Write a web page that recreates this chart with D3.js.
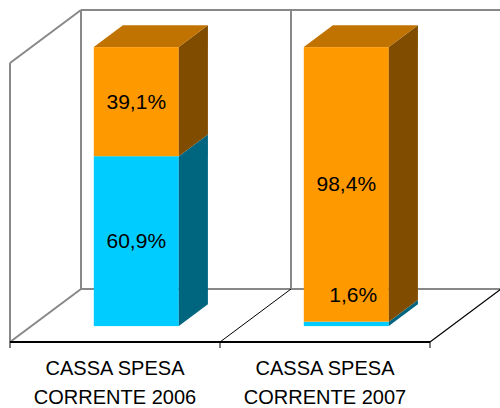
<!DOCTYPE html>
<html>
<head>
<meta charset="utf-8">
<script src="https://cdn.jsdelivr.net/npm/d3@7"></script>
<style>
  body { margin: 0; background: #fff; }
  text { font-family: "Liberation Sans", Arial, sans-serif; }
</style>
</head>
<body>
<div id="chart"></div>
<script>
var categories = ["2006", "2007"];
var categoryLines = [["CASSA SPESA", "CORRENTE 2006"], ["CASSA SPESA", "CORRENTE 2007"]];
var seriesNames = ["blue", "orange"];
var blueValues = [60.9, 1.6];
var orangeValues = [39.1, 98.4];
var valueLabels = [["60,9%", "1,6%"], ["39,1%", "98,4%"]];

var w = 500;
var h = 408;

// depth of the whole box (floor), and where the bars sit inside it
var depthX = 71, depthY = -53;
var barFront = 0.3, barDepth = 0.41;

var colors = { front: ["#00CCFF", "#FF9900"], side: ["#006680", "#804C00"], top: ["#007A99", "#C07300"] };

var xscale = d3.scaleBand()
    .domain(categories)
    .range([10, 430]);

var yscale = d3.scaleLinear()
    .domain([0, 100])
    .range([342, 63]);

var svg = d3.select("#chart")
    .append("svg")
    .attr("width", w)
    .attr("height", h);

function pt(x, y, f) {
    return [x + depthX * f, y + depthY * f];
}

var x0 = xscale.range()[0], x1 = xscale.range()[1];
var yb = yscale(0), yt = yscale(100);
var wallColor = "#888";

// left wall
var lw = svg.append("g").attr("fill", "none").attr("stroke", wallColor).attr("stroke-width", 2);
lw.append("line").attr("x1", x0).attr("y1", yt).attr("x2", x0).attr("y2", yb);
lw.append("line").attr("x1", x0).attr("y1", yt).attr("x2", pt(x0, yt, 1)[0]).attr("y2", pt(x0, yt, 1)[1]);
lw.append("line").attr("x1", x0).attr("y1", yb).attr("x2", pt(x0, yb, 1)[0]).attr("y2", pt(x0, yb, 1)[1]);
lw.append("line").attr("x1", pt(x0, yt, 1)[0]).attr("y1", pt(x0, yt, 1)[1]).attr("x2", pt(x0, yb, 1)[0]).attr("y2", pt(x0, yb, 1)[1]);

// back wall
lw.append("line").attr("x1", pt(x0, yt, 1)[0]).attr("y1", pt(x0, yt, 1)[1]).attr("x2", pt(x1, yt, 1)[0]).attr("y2", pt(x1, yt, 1)[1]);
lw.append("line").attr("x1", pt(x0, yb, 1)[0]).attr("y1", pt(x0, yb, 1)[1]).attr("x2", pt(x1, yb, 1)[0]).attr("y2", pt(x1, yb, 1)[1]);
var xmid = xscale(categories[1]);
lw.append("line").attr("x1", pt(xmid, yt, 1)[0]).attr("y1", pt(xmid, yt, 1)[1]).attr("x2", pt(xmid, yb, 1)[0]).attr("y2", pt(xmid, yb, 1)[1]);

// floor
var fl = svg.append("g").attr("stroke", "#000").attr("fill", "none");
fl.append("line").attr("x1", xmid).attr("y1", yb).attr("x2", pt(xmid, yb, 1)[0]).attr("y2", pt(xmid, yb, 1)[1]).attr("stroke-width", 1);
fl.append("line").attr("x1", x1).attr("y1", yb).attr("x2", pt(x1, yb, 1)[0]).attr("y2", pt(x1, yb, 1)[1]).attr("stroke-width", 1.2);
fl.append("line").attr("x1", x0).attr("y1", yb).attr("x2", x1).attr("y2", yb).attr("stroke-width", 2);
fl.selectAll(".tick")
    .data([x0, xmid, x1])
    .enter()
    .append("line")
    .attr("x1", function(d) { return d; })
    .attr("x2", function(d) { return d; })
    .attr("y1", yb)
    .attr("y2", yb + 6)
    .attr("stroke-width", 1);

// bars
var table = categories.map(function(c, i) {
    return { cat: c, blue: blueValues[i], orange: orangeValues[i] };
});
var stack = d3.stack().keys(seriesNames);
var layers = stack(table);

var bw = 85;
var bdx = depthX * barDepth, bdy = depthY * barDepth;
var labels = [];

categories.forEach(function(c, i) {
    var g = svg.append("g");
    var xl = xscale(c) + (xscale.bandwidth() - bw) / 2 + depthX * barFront;
    var xr = xl + bw;
    layers.forEach(function(layer, k) {
        var ya = yscale(layer[i][0]) + depthY * barFront;
        var yz = yscale(layer[i][1]) + depthY * barFront;
        g.append("rect")
            .attr("x", xl)
            .attr("y", yz)
            .attr("width", bw)
            .attr("height", ya - yz)
            .attr("fill", colors.front[k]);
        g.append("polygon")
            .attr("points", [[xr, yz], [xr + bdx, yz + bdy], [xr + bdx, ya + bdy], [xr, ya]].join(" "))
            .attr("fill", colors.side[k]);
        if (k === layers.length - 1) {
            g.append("polygon")
                .attr("points", [[xl, yz], [xl + bdx, yz + bdy], [xr + bdx, yz + bdy], [xr, yz]].join(" "))
                .attr("fill", colors.top[k]);
        }
        var cx = (xl + xr) / 2;
        var cy = (ya + yz) / 2 + 7;
        if (ya - yz < 20) {
            cx = cx + 7;
            cy = yz - 20;
        }
        labels.push({ x: cx, y: cy, text: valueLabels[k][i] });
    });
});

svg.selectAll(".val")
    .data(labels)
    .enter()
    .append("text")
    .attr("class", "val")
    .attr("x", function(d) { return d.x; })
    .attr("y", function(d) { return d.y; })
    .attr("text-anchor", "middle")
    .attr("font-size", "21px")
    .attr("fill", "#000")
    .text(function(d) { return d.text; });

// category labels
svg.selectAll(".cat")
    .data(categories)
    .enter()
    .append("text")
    .attr("class", "cat")
    .attr("text-anchor", "middle")
    .attr("font-size", "20px")
    .attr("fill", "#000")
    .each(function(d, i) {
        var t = d3.select(this);
        categoryLines[i].forEach(function(line, j) {
            t.append("tspan")
                .attr("x", xscale(d) + xscale.bandwidth() / 2)
                .attr("y", 375 + j * 29)
                .text(line);
        });
    });
</script>
</body>
</html>
